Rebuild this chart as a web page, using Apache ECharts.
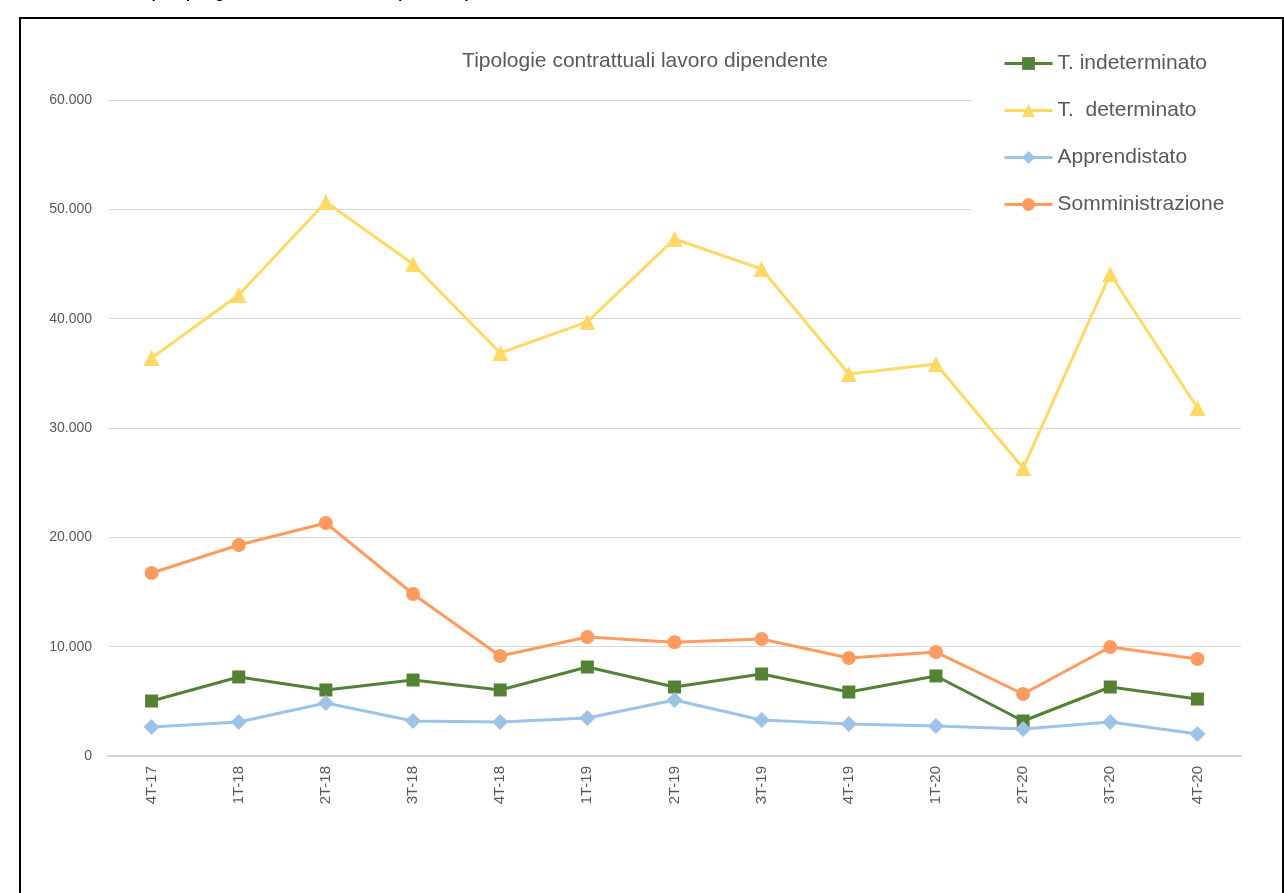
<!DOCTYPE html>
<html>
<head>
<meta charset="utf-8">
<script src="https://cdn.jsdelivr.net/npm/echarts@6/dist/echarts.min.js"></script>
<style>
  html, body { margin: 0; padding: 0; background: #fff; overflow: hidden; }
  #frame { position: absolute; left: 19px; top: 17px; width: 1261px; height: 900px; border: 2px solid #000; z-index: 2; pointer-events: none; }
  #main { position: absolute; left: 0; top: 0; width: 1284px; height: 893px; }
</style>
</head>
<body>
<div id="main"></div>
<div id="frame"></div>
<script>
// trimestri
var categories = ['4T-17','1T-18','2T-18','3T-18','4T-18','1T-19','2T-19','3T-19','4T-19','1T-20','2T-20','3T-20','4T-20'];

// valori
var tIndeterminato = [5030, 7230, 6040, 6950, 6040, 8140, 6310, 7500, 5850, 7320, 3200, 6310, 5210];
var tDeterminato   = [36400, 42160, 50670, 45000, 36860, 39700, 47290, 44540, 34940, 35850, 26340, 44090, 31830];
var apprendistato  = [2650, 3110, 4850, 3200, 3110, 3480, 5120, 3290, 2930, 2740, 2470, 3110, 2010];
var somministrazione = [16740, 19300, 21310, 14820, 9150, 10880, 10400, 10700, 8960, 9510, 5670, 9970, 8870];

var myChart = echarts.init(document.getElementById('main'));

var font = 'Liberation Sans, Arial, sans-serif';

function fmt(v) {
    // separatore migliaia con il punto
    return String(v).replace(/\B(?=(\d{3})+(?!\d))/g, '.');
}

function makeSeries(name, data, color, symbol, size) {
    return {
        name: name,
        type: 'line',
        data: data,
        symbol: symbol,
        symbolSize: size,
        lineStyle: { color: color, width: 3 },
        itemStyle: { color: color },
        z: 3
    };
}

var option = {
    backgroundColor: 'transparent',
    animation: false,
    textStyle: { fontFamily: font },
    graphic: [{
        type: 'text',
        left: 0,
        top: -13,
        style: {
            text: 'Grafico 5 - Assunzioni per tipologia contrattuale di lavoro dipendente per trimestre. Anni 2017-2020',
            font: 'bold 14px ' + font,
            fill: '#000'
        }
    }],
    title: {
        text: 'Tipologie contrattuali lavoro dipendente',
        left: 640,
        textAlign: 'center',
        top: 46,
        textStyle: { fontFamily: font, fontSize: 21, fontWeight: 'normal', color: '#595959' }
    },
    legend: {
        orient: 'vertical',
        left: 972,
        top: 40,
        padding: [13, 24, 16, 31],
        backgroundColor: '#fff',
        itemWidth: 48,
        itemHeight: 16,
        itemGap: 26,
        lineStyle: { width: 3 },
        data: ['T. indeterminato', 'T.  determinato', 'Apprendistato', 'Somministrazione'],
        textStyle: { fontFamily: font, fontSize: 21, color: '#595959', padding: [0, 0, 0, 0] }
    },
    grid: {
        left: 108,
        right: 43,
        top: 100,
        bottom: 137,
        containLabel: false
    },
    xAxis: {
        type: 'category',
        data: categories,
        boundaryGap: true,
        axisLine: { lineStyle: { color: '#d0d0d0', width: 2 } },
        axisTick: { show: false },
        axisLabel: {
            rotate: 90,
            fontFamily: font,
            fontSize: 15,
            color: '#595959',
            margin: 10
        }
    },
    yAxis: {
        type: 'value',
        min: 0,
        max: 60000,
        interval: 10000,
        axisLine: { show: false },
        axisTick: { show: false },
        splitLine: { lineStyle: { color: '#d9d9d9', width: 1 } },
        axisLabel: {
            fontFamily: font,
            fontSize: 14,
            color: '#595959',
            margin: 16,
            formatter: fmt
        }
    },
    series: [
        makeSeries('T.  determinato', tDeterminato, '#FFD966', 'triangle', 16),
        makeSeries('Somministrazione', somministrazione, '#FF9B5F', 'circle', 14),
        makeSeries('T. indeterminato', tIndeterminato, '#548235', 'rect', 13),
        makeSeries('Apprendistato', apprendistato, '#9DC3E6', 'diamond', 16)
    ]
};

myChart.setOption(option);
</script>
</body>
</html>
